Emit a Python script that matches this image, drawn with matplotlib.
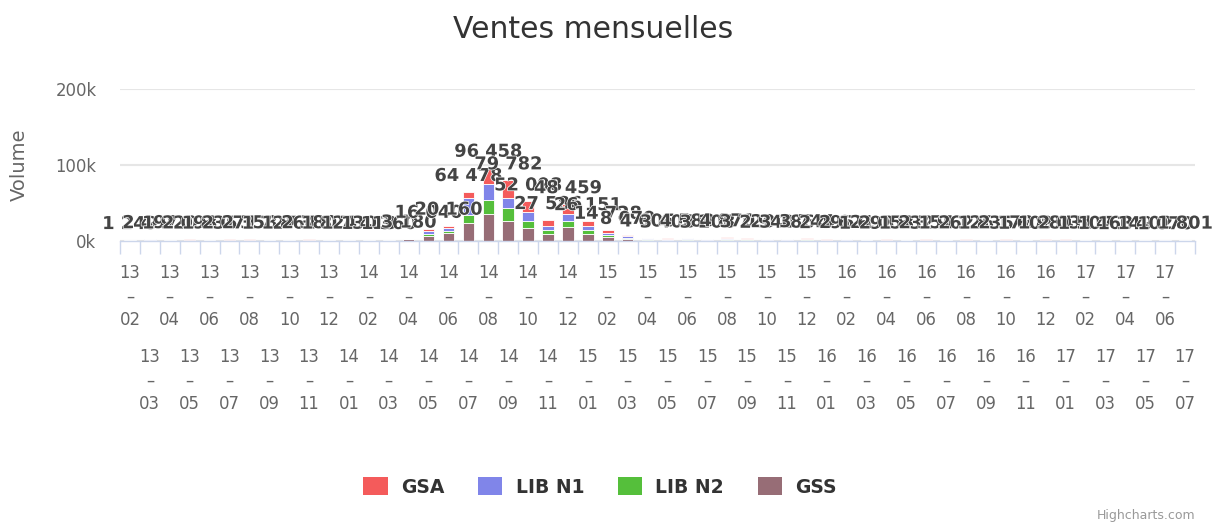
import matplotlib
matplotlib.use("Agg")
import matplotlib.pyplot as plt
import matplotlib.patheffects as pe
from matplotlib.patches import Patch
import numpy as np

# months 2013-02 .. 2017-07
months = ["13-02", "13-03", "13-04", "13-05", "13-06", "13-07", "13-08", "13-09", "13-10", "13-11", "13-12",
          "14-01", "14-02", "14-03", "14-04", "14-05", "14-06", "14-07", "14-08", "14-09", "14-10", "14-11", "14-12",
          "15-01", "15-02", "15-03", "15-04", "15-05", "15-06", "15-07", "15-08", "15-09", "15-10", "15-11", "15-12",
          "16-01", "16-02", "16-03", "16-04", "16-05", "16-06", "16-07", "16-08", "16-09", "16-10", "16-11", "16-12",
          "17-01", "17-02", "17-03", "17-04", "17-05", "17-06", "17-07"]

gsa = [250, 500, 380, 420, 370, 410, 470, 350, 370, 480, 360,
       350, 280, 270, 300, 2600, 3100, 8200, 22000, 22782, 14098, 7200, 12459,
       6151, 3728, 2079, 1100, 800, 1100, 780, 1170, 900, 700, 760, 900,
       600, 630, 400, 490, 440, 560, 470, 510, 440, 520, 390, 480,
       490, 360, 350, 280, 340, 260, 430]
lib_n1 = [300, 600, 460, 500, 440, 500, 560, 410, 450, 570, 440,
          410, 340, 330, 350, 3800, 3900, 22500, 20458, 14000, 12000, 5400, 10000,
          6000, 3500, 1800, 1000, 750, 1000, 700, 1050, 800, 650, 700, 820,
          550, 570, 370, 450, 400, 520, 430, 470, 400, 480, 350, 430,
          450, 330, 320, 250, 310, 230, 400]
lib_n2 = [200, 400, 300, 330, 290, 330, 380, 270, 300, 380, 290,
          280, 230, 220, 280, 2900, 3200, 10300, 18000, 17000, 9000, 5200, 8000,
          5000, 2500, 1200, 700, 500, 700, 480, 750, 570, 450, 490, 580,
          380, 400, 260, 310, 280, 360, 300, 320, 280, 330, 250, 300,
          310, 230, 220, 180, 210, 160, 270]
gss = [499, 997, 780, 843, 735, 831, 948, 697, 744, 950, 734,
       690, 563, 540, 2250, 6740, 9960, 23478, 36000, 26000, 17000, 9786, 18000,
       9000, 5000, 3000, 1805, 1358, 1789, 1248, 1900, 1450, 1140, 1236, 1444,
       965, 1021, 668, 803, 712, 914, 762, 826, 715, 843, 619, 774,
       781, 587, 573, 439, 542, 420, 701]

series_names = ["GSA", "LIB N1", "LIB N2", "GSS"]
series_vals = [gsa, lib_n1, lib_n2, gss]
colors = ["#f45b5b", "#8085e9", "#55bf3b", "#976d76"]

W, H = 1216, 522
fig = plt.figure(figsize=(W / 100, H / 100), dpi=100)
ax = fig.add_axes([120 / W, 1 - 241 / H, 1075 / W, 152 / H])

x = np.arange(len(months))
bottom = np.zeros(len(months))
# highcharts stacks the first series on top, so draw from the last one up
for name, vals, col in reversed(list(zip(series_names, series_vals, colors))):
    ax.bar(x, vals, width=0.58, bottom=bottom, color=col, edgecolor="white",
           linewidth=0.6, zorder=3)
    bottom += np.array(vals)

# stack totals
for xi, tot in zip(x, bottom):
    ax.annotate(f"{int(tot):,}".replace(",", " "), (xi, tot), xytext=(0, 7),
                textcoords="offset pixels", ha="center", va="bottom",
                fontsize=12.8, fontweight="bold", color="#444444", zorder=5,
                annotation_clip=False,
                path_effects=[pe.withStroke(linewidth=1, foreground="white")])

ax.set_xlim(-0.5, len(months) - 0.5)
ax.set_ylim(0, 200000)
ax.set_yticks([0, 100000, 200000])
ax.set_yticklabels(["0k", "100k", "200k"])
ax.tick_params(axis="y", length=0, pad=17, labelsize=11.9, labelcolor="#666666")
ax.grid(axis="y", color="#e6e6e6", linewidth=1.5, zorder=0)
ax.set_axisbelow(True)

for s in ["top", "right", "left"]:
    ax.spines[s].set_visible(False)
ax.spines["bottom"].set_color("#ccd6eb")
ax.spines["bottom"].set_linewidth(1)
ax.spines["bottom"].set_zorder(4)

ax.set_xticks(x)
ax.set_xticklabels([f"{m[:2]}\n–\n{m[3:]}" for m in months], linespacing=1.38)
ax.tick_params(axis="x", which="major", length=0, pad=16.5, labelsize=11.9,
               labelcolor="#666666")
for t in ax.xaxis.get_major_ticks()[1::2]:
    t.set_pad(16.5 + 60.5)
ax.set_xticks(np.arange(len(months) + 1) - 0.5, minor=True)
ax.tick_params(axis="x", which="minor", length=9.4, width=1, color="#ccd6eb")

ax.set_ylabel("Volume", fontsize=14, color="#666666")
ax.yaxis.set_label_coords((29 - 120) / 1075, 0.5)

fig.text(593 / W, 1 - 30 / H, "Ventes mensuelles", ha="center", va="center",
         fontsize=21.5, color="#333333")

handles = [Patch(facecolor=c, edgecolor="none", label=n) for n, c in zip(series_names, colors)]
fig.legend(handles=handles, loc="center", bbox_to_anchor=(600 / W, 1 - 487 / H), ncol=4,
           frameon=False, prop={"weight": "bold", "size": 13.5}, labelcolor="#333333",
           handlelength=1.3, handleheight=1.1, handletextpad=0.7, columnspacing=1.8)

fig.text(1195 / W, 1 - 515 / H, "Highcharts.com", ha="right", va="center",
         fontsize=9, color="#999999")

fig.savefig("out.png", dpi=100)
